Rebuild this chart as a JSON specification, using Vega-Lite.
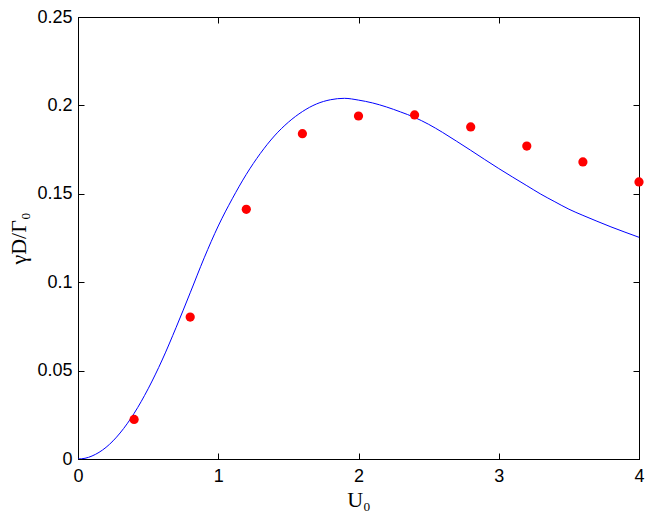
{
  "$schema": "https://vega.github.io/schema/vega-lite/v6.json",
  "width": 561,
  "height": 442,
  "autosize": {"type": "none"},
  "padding": {"left": 78, "top": 17, "right": 25, "bottom": 61},
  "background": "white",
  "config": {
    "view": {"stroke": "black", "strokeWidth": 1},
    "axis": {
      "grid": false,
      "domainColor": "black",
      "tickColor": "black",
      "labelColor": "black",
      "labelFont": "Liberation Sans",
      "labelFontSize": 18,
      "labelFlush": false,
      "labelOverlap": false,
      "titleFont": "Liberation Serif",
      "titleFontSize": 22,
      "titleFontWeight": "normal",
      "titleColor": "black",
      "tickSize": -6
    }
  },
  "datasets": {
    "curve": [
      {"u": 0.0, "g": 0.0},
      {"u": 0.05, "g": 0.0004},
      {"u": 0.1, "g": 0.0017},
      {"u": 0.2, "g": 0.0066},
      {"u": 0.3, "g": 0.0147},
      {"u": 0.4, "g": 0.0258},
      {"u": 0.5, "g": 0.0397},
      {"u": 0.6, "g": 0.056},
      {"u": 0.7, "g": 0.0745},
      {"u": 0.8, "g": 0.094},
      {"u": 0.9, "g": 0.1138},
      {"u": 1.0, "g": 0.1318},
      {"u": 1.1, "g": 0.1472},
      {"u": 1.2, "g": 0.161},
      {"u": 1.3, "g": 0.1728},
      {"u": 1.4, "g": 0.1827},
      {"u": 1.5, "g": 0.1905},
      {"u": 1.6, "g": 0.1965},
      {"u": 1.7, "g": 0.2008},
      {"u": 1.8, "g": 0.2032},
      {"u": 1.9, "g": 0.204},
      {"u": 2.0, "g": 0.203},
      {"u": 2.1, "g": 0.2014},
      {"u": 2.2, "g": 0.1991},
      {"u": 2.3, "g": 0.1963},
      {"u": 2.4, "g": 0.1932},
      {"u": 2.5, "g": 0.1893},
      {"u": 2.6, "g": 0.1847},
      {"u": 2.7, "g": 0.1797},
      {"u": 2.8, "g": 0.1746},
      {"u": 2.9, "g": 0.1694},
      {"u": 3.0, "g": 0.1643},
      {"u": 3.1, "g": 0.1594},
      {"u": 3.2, "g": 0.1546},
      {"u": 3.3, "g": 0.1498},
      {"u": 3.4, "g": 0.1455},
      {"u": 3.5, "g": 0.1413},
      {"u": 3.6, "g": 0.1378},
      {"u": 3.7, "g": 0.1345},
      {"u": 3.8, "g": 0.1313},
      {"u": 3.9, "g": 0.1283},
      {"u": 4.0, "g": 0.1254}
    ],
    "dots": [
      {"u": 0.4, "g": 0.0224},
      {"u": 0.8, "g": 0.0803},
      {"u": 1.2, "g": 0.1412},
      {"u": 1.6, "g": 0.184},
      {"u": 2.0, "g": 0.194},
      {"u": 2.4, "g": 0.1946},
      {"u": 2.8, "g": 0.1878},
      {"u": 3.2, "g": 0.177},
      {"u": 3.6, "g": 0.168},
      {"u": 4.0, "g": 0.1567}
    ]
  },
  "layer": [
    {
      "data": {"name": "curve"},
      "mark": {"type": "line", "color": "#0000ff", "strokeWidth": 1, "interpolate": "monotone", "clip": true},
      "encoding": {
        "x": {
          "field": "u", "type": "quantitative",
          "scale": {"domain": [0, 4], "nice": false, "zero": false},
          "axis": {"orient": "bottom", "values": [0, 1, 2, 3, 4], "title": "U₀", "labelPadding": 14, "titlePadding": 4}
        },
        "y": {
          "field": "g", "type": "quantitative",
          "scale": {"domain": [0, 0.25], "nice": false, "zero": false},
          "axis": {"orient": "left", "values": [0, 0.05, 0.1, 0.15, 0.2, 0.25], "format": "~g", "title": "γD/Γ₀", "labelPadding": 12, "titlePadding": 6}
        }
      }
    },
    {
      "data": {"name": "dots"},
      "mark": {"type": "circle", "color": "red", "opacity": 1, "size": 85},
      "encoding": {
        "x": {
          "field": "u", "type": "quantitative",
          "axis": {"orient": "top", "values": [0, 1, 2, 3, 4], "labels": false, "title": null}
        },
        "y": {
          "field": "g", "type": "quantitative",
          "axis": {"orient": "right", "values": [0, 0.05, 0.1, 0.15, 0.2, 0.25], "labels": false, "title": null}
        }
      }
    }
  ],
  "resolve": {"axis": {"x": "independent", "y": "independent"}}
}
